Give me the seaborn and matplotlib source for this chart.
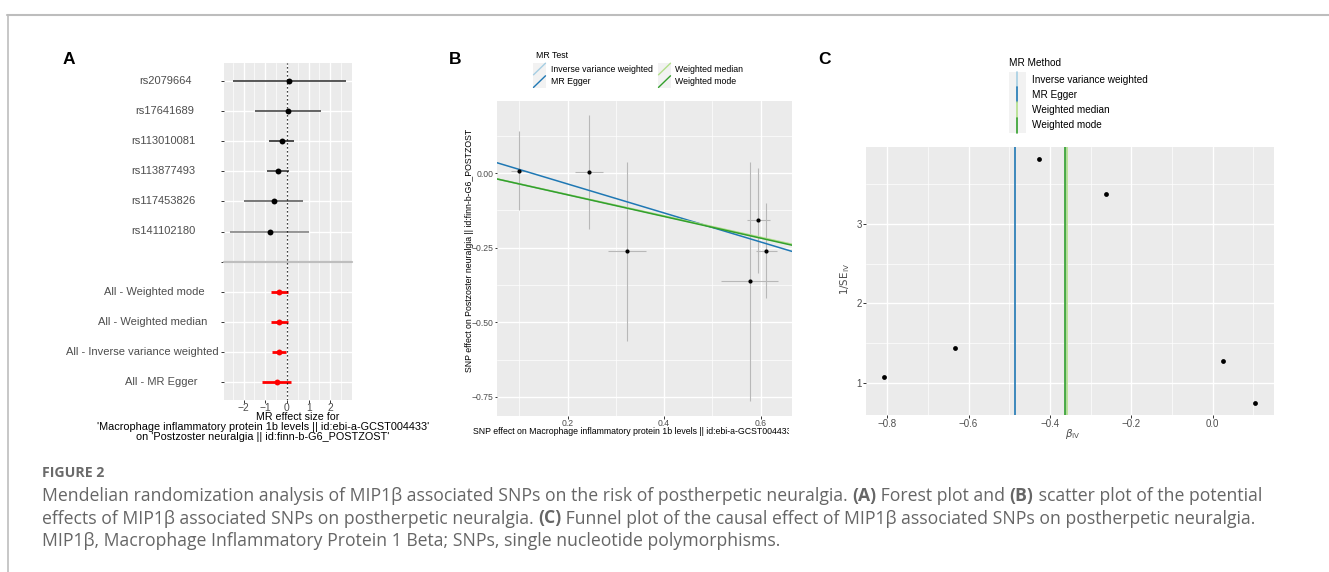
import numpy as np
import pandas as pd
import matplotlib
matplotlib.use("Agg")
import matplotlib.pyplot as plt
import seaborn as sns
from matplotlib.lines import Line2D
from matplotlib.patches import Rectangle
from matplotlib.transforms import blended_transform_factory, Bbox, TransformedBbox

# ---------------- data ----------------
# Panel A (forest plot)
snp_labels = ["rs2079664", "rs17641689", "rs113010081", "rs113877493", "rs117453826", "rs141102180"]
snp_b = [0.10, 0.03, -0.24, -0.41, -0.61, -0.80]
snp_lo = [-2.50, -1.48, -0.83, -0.91, -1.97, -2.61]
snp_hi = [2.72, 1.55, 0.34, 0.10, 0.75, 1.03]
snp_col = ["#2b2b2b", "#3a3a3a", "#1a1a1a", "#2b2b2b", "#555555", "#7a7a7a"]
sum_labels = ["All - Weighted mode", "All - Weighted median", "All - Inverse variance weighted", "All - MR Egger"]
sum_b = [-0.36, -0.36, -0.36, -0.48]
sum_lo = [-0.74, -0.74, -0.68, -1.14]
sum_hi = [0.03, 0.04, -0.02, 0.17]
a_xticks = [-2, -1, 0, 1, 2]
a_xticklabels = ["−2", "−1", "0", "1", "2"]

# Panel B (scatter plot)
exp_beta = [0.099, 0.245, 0.322, 0.595, 0.612, 0.577]
exp_lo = [0.082, 0.215, 0.283, 0.572, 0.590, 0.518]
exp_hi = [0.116, 0.274, 0.362, 0.619, 0.633, 0.636]
out_beta = [0.009, 0.004, -0.260, -0.157, -0.260, -0.363]
out_lo = [-0.123, -0.186, -0.562, -0.333, -0.419, -0.763]
out_hi = [0.142, 0.195, 0.039, 0.019, -0.100, 0.037]
mr_methods = ["Inverse variance weighted", "MR Egger", "Weighted median", "Weighted mode"]
mr_slope = [-0.360, -0.486, -0.358, -0.363]
mr_intercept = [0.0, 0.061, 0.0, 0.0]
b_xticks = [0.2, 0.4, 0.6]
b_xticklabels = ["0.2", "0.4", "0.6"]
b_yticks = [0.0, -0.25, -0.50, -0.75]
b_yticklabels = ["0.00", "−0.25", "−0.50", "−0.75"]

# Panel C (funnel plot)
beta_iv = [-0.807, -0.632, -0.427, -0.263, 0.026, 0.105]
inv_se = [1.068, 1.437, 3.820, 3.382, 1.277, 0.748]
c_xticks = [-0.8, -0.6, -0.4, -0.2, 0.0]
c_xticklabels = ["−0.8", "−0.6", "−0.4", "−0.2", "0.0"]
c_yticks = [1, 2, 3]
c_yticklabels = ["1", "2", "3"]

caption_title = "FIGURE 2"
caption_lines = [
    [("Mendelian randomization analysis of MIP1β associated SNPs on the risk of postherpetic neuralgia. ", "normal"),
     ("(A)", "bold"), (" Forest plot and ", "normal"), ("(B)", "bold"),
     (" scatter plot of the potential", "normal")],
    [("effects of MIP1β associated SNPs on postherpetic neuralgia. ", "normal"), ("(C)", "bold"),
     (" Funnel plot of the causal effect of MIP1β associated SNPs on postherpetic neuralgia.", "normal")],
    [("MIP1β, Macrophage Inflammatory Protein 1 Beta; SNPs, single nucleotide polymorphisms.", "normal")],
]

# ---------------- style ----------------
sns.set_theme(style="darkgrid")
plt.rcParams["font.family"] = ["Liberation Sans", "DejaVu Sans"]
plt.rcParams["axes.facecolor"] = "#EBEBEB"
plt.rcParams["axes.unicode_minus"] = True

W, H = 1329, 572
fig = plt.figure(figsize=(W / 100, H / 100), dpi=100)
fig.patch.set_facecolor("white")
renderer = fig.canvas.get_renderer()


def fx(x):
    return x / W


def fy(y):
    return 1 - y / H


def add_ax(l, r, t, b):
    return fig.add_axes([fx(l), fy(b), (r - l) / W, (b - t) / H])


def style_ax(ax, fs):
    for s in ax.spines.values():
        s.set_visible(False)
    ax.grid(which="major", color="white", lw=1.0)
    ax.grid(which="minor", color="white", lw=0.5)
    ax.tick_params(which="major", bottom=True, left=True, length=2.2, width=0.7,
                   color="#333333", labelsize=fs, labelcolor="#4D4D4D", pad=0.8)
    ax.tick_params(which="minor", bottom=False, left=False, length=0)
    ax.set_axisbelow(True)


GRAY_TXT = "#4D4D4D"

# ---------------- Panel A ----------------
axA = add_ax(224, 352, 63, 400)
rows_snp = list(range(len(snp_labels)))
rows_sum = [len(snp_labels) + 1 + i for i in range(len(sum_labels))]
dfA1 = pd.DataFrame({"b": snp_b, "lo": snp_lo, "hi": snp_hi, "row": rows_snp})
dfA2 = pd.DataFrame({"b": sum_b, "lo": sum_lo, "hi": sum_hi, "row": rows_sum})
axA.hlines(dfA1["row"], dfA1["lo"], dfA1["hi"], colors=snp_col, lw=1.1, zorder=2)
axA.hlines(dfA2["row"], dfA2["lo"], dfA2["hi"], colors="red", lw=2.0, zorder=2)
sns.scatterplot(data=dfA1, x="b", y="row", color="black", s=18, linewidth=0, ax=axA, zorder=3, legend=False)
sns.scatterplot(data=dfA2, x="b", y="row", color="red", s=18, linewidth=0, ax=axA, zorder=3, legend=False)
axA.axvline(0, color="black", ls=(0, (1, 2.2)), lw=0.9, zorder=2.5)
axA.axhline(len(snp_labels), color="#BEBEBE", lw=1.6, zorder=1.5, clip_on=False)
axA.set_xlim(-2.9, 3.0)
axA.set_ylim(10.6, -0.6)
axA.set_xticks(a_xticks)
axA.set_xticklabels(a_xticklabels)
axA.set_xticks([-2.5, -1.5, -0.5, 0.5, 1.5, 2.5], minor=True)
axA.set_yticks(list(range(11)))
axA.set_yticklabels([""] * 11)
style_ax(axA, 7.4)
axA.tick_params(axis="x", pad=0.2)
axA.set_xlabel("")
axA.set_ylabel("")
# y labels (ggplot-like placement)
trA = blended_transform_factory(fig.transFigure, axA.transData)
for lab, r in zip(snp_labels + sum_labels, rows_snp + rows_sum):
    t = axA.text(0, r, lab, transform=trA, ha="left", va="center", fontsize=8.0, color=GRAY_TXT)
    w = t.get_window_extent(renderer).width
    t.set_x(fx(178.6 - 0.74 * w))
fig.text(fx(298), fy(416.5), "MR effect size for", ha="center", va="center", fontsize=7.7, color="black")
fig.text(fx(263), fy(426.8), "'Macrophage inflammatory protein 1b levels || id:ebi-a-GCST004433'",
         ha="center", va="center", fontsize=7.8, color="black")
fig.text(fx(263), fy(437.0), "on 'Postzoster neuralgia || id:finn-b-G6_POSTZOST'",
         ha="center", va="center", fontsize=7.8, color="black")

# ---------------- Panel B ----------------
pal = sns.color_palette("Paired", 4)
axB = add_ax(497, 792, 101, 416)
dfB = pd.DataFrame({"x": exp_beta, "xlo": exp_lo, "xhi": exp_hi, "y": out_beta, "ylo": out_lo, "yhi": out_hi})
axB.vlines(dfB["x"], dfB["ylo"], dfB["yhi"], colors="#B8B8B8", lw=0.8, zorder=2)
axB.hlines(dfB["y"], dfB["xlo"], dfB["xhi"], colors="#B8B8B8", lw=0.8, zorder=2)
for m, s, i, c in zip(mr_methods, mr_slope, mr_intercept, pal):
    axB.axline((0, i), slope=s, color=c, lw=1.1, zorder=3)
sns.scatterplot(data=dfB, x="x", y="y", color="black", s=9, linewidth=0, ax=axB, zorder=4, legend=False)
axB.set_xlim(0.0535, 0.665)
axB.set_ylim(-0.814, 0.242)
axB.set_xticks(b_xticks)
axB.set_xticklabels(b_xticklabels)
axB.set_yticks(b_yticks)
axB.set_yticklabels(b_yticklabels)
axB.set_xticks([0.1, 0.3, 0.5], minor=True)
axB.set_yticks([0.125, -0.125, -0.375, -0.625], minor=True)
style_ax(axB, 6.2)
axB.tick_params(which="major", length=1.8, pad=0.5)
axB.set_xlabel("")
axB.set_ylabel("SNP effect on Postzoster neuralgia || id:finn-b-G6_POSTZOST", fontsize=6.3, color="black")
axB.yaxis.set_label_coords(fx(474.5), fy(250), transform=fig.transFigure)
xl = fig.text(fx(473.3), fy(431), "SNP effect on Macrophage inflammatory protein 1b levels || id:ebi-a-GCST004433",
              ha="left", va="center", fontsize=6.3, color="black")
xl.set_clip_box(TransformedBbox(Bbox([[fx(440), fy(445)], [fx(789), fy(420)]]), fig.transFigure))
xl.set_clip_on(True)

# legend B
fig.text(fx(535.7), fy(55), "MR Test", ha="left", va="center", fontsize=6.3, color="black")
leg_pos = [(533, 62.7), (533, 75.3), (658, 62.7), (658, 75.3)]
leg_txt_x = [550.7, 550.7, 674.7, 674.7]
for m, c, (kx, ky), tx in zip(mr_methods, pal, leg_pos, leg_txt_x):
    fig.add_artist(Rectangle((fx(kx), fy(ky + 12.6)), 13 / W, 12.6 / H, transform=fig.transFigure,
                             facecolor="#F2F2F2", edgecolor="none"))
    fig.add_artist(Line2D([fx(kx + 0.5), fx(kx + 12.5)], [fy(ky + 12.1), fy(ky + 0.5)], transform=fig.transFigure,
                          color=c, lw=1.0))
    fig.text(fx(tx), fy(ky + 6.3), m, ha="left", va="center", fontsize=6.3, color="black")

# ---------------- Panel C ----------------
axC = add_ax(866, 1274, 146.7, 415)
dfC = pd.DataFrame({"b": beta_iv, "w": inv_se})
for m, s, c in zip(mr_methods, mr_slope, pal):
    axC.axvline(s, color=c, lw=1.2, zorder=2)
sns.scatterplot(data=dfC, x="b", y="w", color="black", s=12, linewidth=0, ax=axC, zorder=3, legend=False)
axC.set_xlim(-0.852, 0.151)
axC.set_ylim(0.593, 3.975)
axC.set_xticks(c_xticks)
axC.set_xticklabels(c_xticklabels)
axC.set_yticks(c_yticks)
axC.set_yticklabels(c_yticklabels)
axC.set_xticks([-0.7, -0.5, -0.3, -0.1, 0.1], minor=True)
axC.set_yticks([1.5, 2.5, 3.5], minor=True)
style_ax(axC, 7.0)
axC.set_xlabel(r"$\beta_{\mathrm{IV}}$", fontsize=7.4, color="#4D4D4D")
axC.xaxis.set_label_coords(fx(1073), fy(427), transform=fig.transFigure)
axC.set_ylabel(r"$1/\mathrm{SE}_{\mathrm{IV}}$", fontsize=7.4, color="#4D4D4D")
axC.yaxis.set_label_coords(fx(852), fy(279), transform=fig.transFigure)

# legend C
fig.text(fx(1009), fy(63), "MR Method", ha="left", va="center", fontsize=7.2, color="black")
for k, (m, c) in enumerate(zip(mr_methods, pal)):
    top = 72 + 15.2 * k
    fig.add_artist(Rectangle((fx(1009), fy(top + 15.2)), 16.7 / W, 15.2 / H, transform=fig.transFigure,
                             facecolor="#F2F2F2", edgecolor="none"))
    fig.add_artist(Line2D([fx(1017.3), fx(1017.3)], [fy(top), fy(top + 15.2)], transform=fig.transFigure,
                          color=c, lw=1.2))
    fig.text(fx(1031.7), fy(top + 7.6), m, ha="left", va="center", fontsize=7.2, color="black")

# ---------------- panel letters ----------------
for letter, x in zip(["A", "B", "C"], [63, 449, 818]):
    fig.text(fx(x), fy(60), letter, ha="left", va="center", fontsize=12.5, weight="bold", color="black")

# ---------------- frame ----------------
fig.add_artist(Line2D([fx(7), fx(1329)], [fy(15), fy(15)], transform=fig.transFigure, color="#BDBDBD", lw=1.5))
fig.add_artist(Line2D([fx(8), fx(8)], [fy(15), fy(572)], transform=fig.transFigure, color="#BDBDBD", lw=1.2))

# ---------------- caption ----------------
cap_font = ["Open Sans", "DejaVu Sans"]
CAP_COL = "#666666"
fig.text(fx(41.7), fy(473), caption_title, ha="left", va="center", fontsize=10.2, weight="bold",
         color="#6A6A6A", family=cap_font)


def draw_caption_line(line, y, fs):
    x = 41.7
    texts = []
    for txt, wt in line:
        t = fig.text(fx(x), fy(y), txt, ha="left", va="center", fontsize=fs, weight=wt,
                     color=CAP_COL, family=cap_font)
        x += t.get_window_extent(renderer).width
        texts.append(t)
    return texts, x - 41.7


# fit the first caption line to the reference line length (~1223 px)
tmp, width0 = draw_caption_line(caption_lines[0], 496, 11.5)
for t in tmp:
    t.remove()
cap_fs = 11.5 * 1223 / width0
for line, y in zip(caption_lines, [496, 518.5, 541]):
    draw_caption_line(line, y, cap_fs)

fig.savefig("out.png", dpi=100)
